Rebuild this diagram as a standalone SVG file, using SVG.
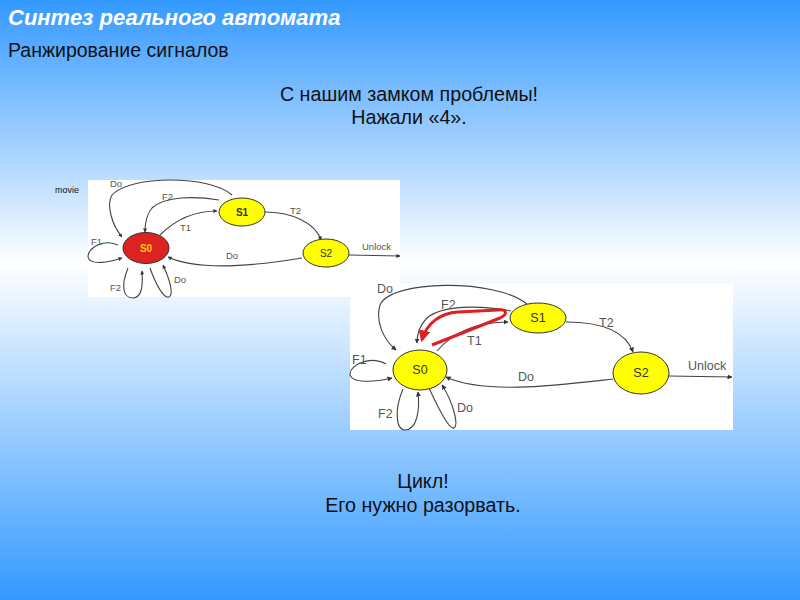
<svg xmlns="http://www.w3.org/2000/svg" width="800" height="600" viewBox="0 0 800 600">
<defs>
<linearGradient id="bg" x1="0" y1="0" x2="0" y2="1">
<stop offset="0" stop-color="#3399ff"/>
<stop offset="0.44" stop-color="#ffffff"/>
<stop offset="1" stop-color="#3399ff"/>
</linearGradient>
<marker id="ah" viewBox="0 0 10 10" refX="9" refY="5" markerWidth="5" markerHeight="5" orient="auto" markerUnits="userSpaceOnUse">
<path d="M0,0 L10,5 L0,10 z" fill="#333"/>
</marker>
<marker id="ahs" viewBox="0 0 10 10" refX="9" refY="5" markerWidth="4" markerHeight="4" orient="auto" markerUnits="userSpaceOnUse">
<path d="M0,0 L10,5 L0,10 z" fill="#333"/>
</marker>
<marker id="ahr" viewBox="0 0 10 10" refX="8" refY="5" markerWidth="12" markerHeight="12" orient="auto" markerUnits="userSpaceOnUse">
<path d="M0,0 L10,5 L0,10 z" fill="#e02020"/>
</marker>
</defs>
<style>
.t{font-family:"Liberation Sans",Arial,sans-serif;fill:#111}
.lbl{font-family:"Liberation Sans",Arial,sans-serif;fill:#555}
.e{fill:none;stroke:#444;stroke-width:1.1}
.node{fill:#ffff00;stroke:#333;stroke-width:1}
</style>
<rect width="800" height="600" fill="url(#bg)"/>
<text x="8" y="25" font-family="'Liberation Sans',Arial,sans-serif" font-size="22" font-weight="bold" font-style="italic" fill="#fff">Синтез реального автомата</text>
<text class="t" x="8" y="57" font-size="19.5">Ранжирование сигналов</text>
<text class="t" x="409" y="101" font-size="19.7" text-anchor="middle">С нашим замком проблемы!</text>
<text class="t" x="409" y="124" font-size="19.7" text-anchor="middle">Нажали «4».</text>
<text class="t" x="423" y="488" font-size="19.7" text-anchor="middle">Цикл!</text>
<text class="t" x="423" y="512" font-size="19.7" text-anchor="middle">Его нужно разорвать.</text>
<text class="t" x="55" y="193" font-size="9" fill="#333">movie</text>

<!-- small diagram -->
<g id="small">
<rect x="88" y="180" width="312" height="117" fill="#fff"/>
<g id="small-connectors">
<path class="e" marker-end="url(#ahs)" d="M232,195 C210,175 130,175 112,195 C106,205 112,225 122,237"/>
<path class="e" marker-end="url(#ahs)" d="M219,200 C195,196 165,196 152,208 C146,215 145,224 145,232"/>
<path class="e" marker-end="url(#ahs)" d="M160,235 C175,220 195,211 217,211"/>
<path class="e" marker-end="url(#ahs)" d="M265,212 C290,212 315,222 321,240"/>
<path class="e" marker-end="url(#ahs)" d="M302,258 C260,265 200,272 168,257"/>
<path class="e" marker-end="url(#ahs)" d="M349,255 L400,256"/>
<path class="e" marker-end="url(#ahs)" d="M118,245 C100,238 88,250 88,257 C90,266 110,262 122,258"/>
<path class="e" marker-end="url(#ahs)" d="M128,268 C120,288 124,298 133,298 C142,298 143,285 142,271"/>
<path class="e" marker-end="url(#ahs)" d="M150,268 C156,285 164,299 169,297 C174,295 170,280 163,265"/>
</g>
<g class="lbl" font-size="9.5">
<text x="110" y="187">Do</text>
<text x="162" y="200">F2</text>
<text x="180" y="231">T1</text>
<text x="290" y="214">T2</text>
<text x="91" y="245">F1</text>
<text x="362" y="250">Unlock</text>
<text x="226" y="259">Do</text>
<text x="110" y="291">F2</text>
<text x="174" y="283">Do</text>
</g>
<g id="s0-small"><ellipse cx="146" cy="248" rx="23" ry="15.5" fill="#dd2222" stroke="#333"/><text x="146" y="252" font-family="'Liberation Sans',Arial,sans-serif" font-size="10" font-weight="bold" fill="#ffcc00" text-anchor="middle">S0</text></g>
<g id="s1-small"><ellipse class="node" cx="242" cy="212" rx="23" ry="14"/><text x="242" y="216" font-family="'Liberation Sans',Arial,sans-serif" font-size="10" font-weight="bold" fill="#333" text-anchor="middle">S1</text></g>
<g id="s2-small"><ellipse class="node" cx="326" cy="253" rx="23" ry="14"/><text x="326" y="257" font-family="'Liberation Sans',Arial,sans-serif" font-size="10" fill="#333" text-anchor="middle">S2</text></g>
</g>

<!-- large diagram -->
<g id="large">
<rect x="350" y="284" width="383" height="146" fill="#fff"/>
<g id="large-connectors">
<path class="e" marker-end="url(#ah)" d="M527,304 C495,278 390,280 380,305 C375,322 384,340 396,350"/>
<path class="e" marker-end="url(#ah)" d="M511,311 C480,305 442,305 427,318 C419,326 417,334 417,343"/>
<path class="e" marker-end="url(#ah)" d="M437,351 C455,330 480,322 508,322"/>
<path class="e" marker-end="url(#ah)" d="M566,322 C600,322 625,330 633,352"/>
<path class="e" marker-end="url(#ah)" d="M613,379 C560,385 485,395 446,377"/>
<path class="e" marker-end="url(#ah)" d="M669,376 L732,377"/>
<path class="e" marker-end="url(#ah)" d="M386,364 C370,355 350,365 350,374 C351,384 375,382 392,378"/>
<path class="e" marker-end="url(#ah)" d="M403,389 C394,410 396,430 405,430 C417,430 420,410 418,392"/>
<path class="e" marker-end="url(#ah)" d="M429,388 C440,412 450,430 454,428 C459,425 453,402 442,385"/>
</g>
<path fill="none" stroke="#e02020" stroke-width="3" stroke-linejoin="round" marker-end="url(#ahr)" d="M432,345 L500,318 C508,314 507,309 498,310 L458,312 C440,313 426,324 422,340"/>
<g class="lbl" font-size="12.5">
<text x="377" y="293">Do</text>
<text x="441" y="309">F2</text>
<text x="467" y="345">T1</text>
<text x="599" y="327">T2</text>
<text x="352" y="364">F1</text>
<text x="688" y="370">Unlock</text>
<text x="518" y="381">Do</text>
<text x="378" y="418">F2</text>
<text x="457" y="412">Do</text>
</g>
<g id="s0-large"><ellipse class="node" cx="420" cy="370" rx="27" ry="20"/><text x="420" y="374" font-family="'Liberation Sans',Arial,sans-serif" font-size="12.5" fill="#333" text-anchor="middle">S0</text></g>
<g id="s1-large"><ellipse class="node" cx="538" cy="318" rx="28" ry="15"/><text x="538" y="322" font-family="'Liberation Sans',Arial,sans-serif" font-size="12.5" fill="#333" text-anchor="middle">S1</text></g>
<g id="s2-large"><ellipse class="node" cx="641" cy="373" rx="28" ry="21"/><text x="641" y="377" font-family="'Liberation Sans',Arial,sans-serif" font-size="12.5" fill="#333" text-anchor="middle">S2</text></g>
</g>
</svg>
